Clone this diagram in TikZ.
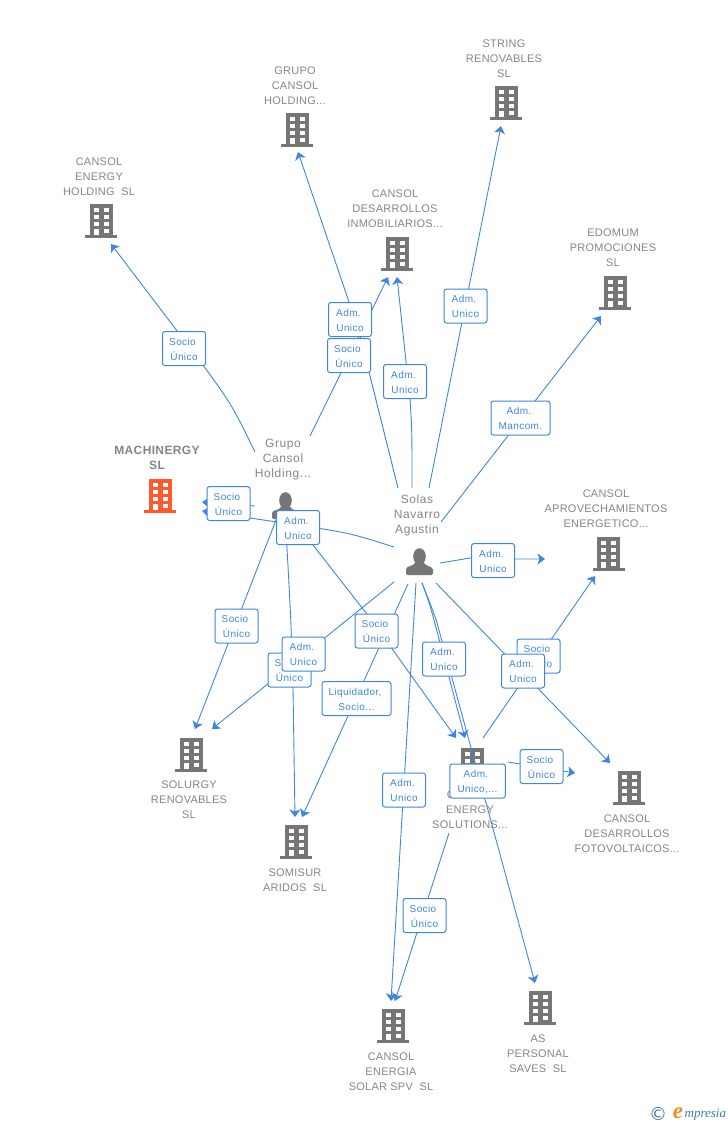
\documentclass[tikz,border=0pt]{standalone}
\usepackage{fontspec}
\setmainfont{Liberation Sans}
\newfontfamily\logofont{Liberation Serif}
\newfontfamily\symfont{DejaVu Sans}
\usetikzlibrary{arrows.meta}
\definecolor{edgeblue}{HTML}{3F86E2}
\definecolor{labgray}{HTML}{858585}
\definecolor{icongray}{HTML}{767676}
\definecolor{orangeicon}{HTML}{FF5A2B}
\definecolor{logoteal}{HTML}{3F7F96}
\definecolor{logoorange}{HTML}{F58A1F}
\newcommand\tsp{\hspace*{3pt}}
\tikzset{
  x=1pt,y=-1pt,
  building/.pic={
    \fill[pic actions] (-11.5,-17) rectangle (11.5,16);
    \fill[pic actions] (-16,13.7) rectangle (16,16.7);
    \foreach \yy in {-13,-6,1,7.5}{
      \fill[white] (-7.5,\yy) rectangle (-2.5,\yy+4);
      \fill[white] (2.5,\yy) rectangle (7.5,\yy+4);
    }
    \fill[white] (-7.5,7.5) rectangle (-2.5,14);
  },
  person/.pic={
    \fill[pic actions] (0.5,-5.5) ellipse (6.3 and 8.3);
    \fill[pic actions] (-13,13) [rounded corners=1.5pt] -- (-13,7.5) [sharp corners] .. controls (-12,4) and (-6,4.5) .. (-4,1) -- (5,1) .. controls (7,4.5) and (13,4) .. (14,7.5) [rounded corners=1.5pt] -- (14,13) -- cycle;
  },
  complabel/.style={yshift=-1pt,text=labgray,font=\fontsize{11}{15}\selectfont\addfontfeature{LetterSpace=2.3},align=center,inner sep=0pt},
  perlabel/.style={yshift=-2pt,text=labgray,font=\fontsize{12}{15}\selectfont\addfontfeature{LetterSpace=5},align=center,inner sep=0pt},
  boldlabel/.style={yshift=-0.5pt,text=labgray,font=\fontsize{12}{15}\selectfont\bfseries\addfontfeature{LetterSpace=3},align=center,inner sep=0pt},
  link/.style={draw=edgeblue,line width=0.9pt},
  arrowlink/.style={link,-{Stealth[length=7.5pt,width=11pt,inset=2pt]}},
  tag/.style={draw=edgeblue,line width=1pt,fill=white,rounded corners=2.5pt,text=edgeblue,
    font=\fontsize{10}{15}\selectfont\addfontfeature{LetterSpace=4},align=center,inner sep=0pt,minimum width=43pt,minimum height=34pt,
    text height=25pt,text depth=2pt},
}
\begin{document}
\begin{tikzpicture}
\useasboundingbox (0,0) rectangle (728,1125);

% icons
\pic[fill=icongray] at (101,221) {building};
\pic[fill=icongray] at (297,130) {building};
\pic[fill=icongray] at (506,103) {building};
\pic[fill=icongray] at (397,254) {building};
\pic[fill=icongray] at (615,293) {building};
\pic[fill=icongray] at (608.5,554) {building};
\pic[fill=icongray] at (629,788) {building};
\pic[fill=icongray] at (472,765) {building};
\pic[fill=icongray] at (191,755) {building};
\pic[fill=icongray] at (296,842) {building};
\pic[fill=icongray] at (393,1026) {building};
\pic[fill=icongray] at (540,1008) {building};
\pic[fill=orangeicon] at (160,496) {building};
\pic[fill=icongray] at (285,506) {person};
\pic[fill=icongray] at (419,562) {person};

% labels
\node[complabel] (lHolding) at (99,176) {CANSOL\\ENERGY\\HOLDING\ \ SL};
\node[complabel] (lGrupo) at (295,84.5) {GRUPO\\CANSOL\\HOLDING...};
\node[complabel] (lString) at (504,58) {STRING\\RENOVABLES\\SL};
\node[complabel] (lInmo) at (395,208) {CANSOL\\DESARROLLOS\\INMOBILIARIOS...};
\node[complabel] (lEdomum) at (613,247) {EDOMUM\\PROMOCIONES\\SL};
\node[complabel] (lAprov) at (606,508) {CANSOL\\APROVECHAMIENTOS\\ENERGETICO...};
\node[complabel] (lFoto) at (627,833) {CANSOL\\DESARROLLOS\\FOTOVOLTAICOS...};
\node[complabel] (lSol) at (470,809) {CANSOL\\ENERGY\\SOLUTIONS...};
\node[complabel] (lSolurgy) at (189,799) {SOLURGY\\RENOVABLES\\SL};
\node[complabel] (lSomisur) at (295,879.5) {SOMISUR\\ARIDOS\ \ SL};
\node[complabel] (lSpv) at (391,1071) {CANSOL\\ENERGIA\\SOLAR SPV\ \ SL};
\node[complabel] (lSaves) at (538,1053) {AS\\PERSONAL\\SAVES\ \ SL};
\node[boldlabel] (lMach) at (157,457.5) {MACHINERGY\\SL};
\node[perlabel] (lGP) at (283,458) {Grupo\\Cansol\\Holding...};
\node[perlabel] (lSolas) at (417,513) {Solas\\Navarro\\Agustin};

% connector ends
\coordinate (aHolding) at (111,244);
\coordinate (aGrupo) at (298,152);
\coordinate (aString) at (501,126);
\coordinate (aInmoA) at (388,277);
\coordinate (aInmoB) at (397,277);
\coordinate (aEdomum) at (601,316);
\coordinate (aAprov) at (595,576);
\coordinate (aFoto) at (610,763);
\coordinate (aSolA) at (456,738);
\coordinate (aSolB) at (465,738);
\coordinate (aSolurgyA) at (195,729);
\coordinate (aSolurgyB) at (212,729);
\coordinate (aSomA) at (295,817);
\coordinate (aSomB) at (302,817);
\coordinate (aSpvA) at (391,1001);
\coordinate (aSpvB) at (395,1001);
\coordinate (aSaves) at (535,983);
\coordinate (aMachA) at (202,502);
\coordinate (aMachB) at (202,511);
\coordinate (aHidden) at (545,559);
\coordinate (aHiddenB) at (575,773);
\coordinate (gTopL) at (255,452);
\coordinate (gTopR) at (310,436);
\coordinate (gLeft) at (255,506);
\coordinate (gBotL) at (276,520);
\coordinate (gBotM) at (286,530);
\coordinate (gBotR) at (313,545);
\coordinate (sTopA) at (398,488);
\coordinate (sTopB) at (412,488);
\coordinate (sTopC) at (429,488);
\coordinate (sTopD) at (441,522);
\coordinate (sRight) at (440,563);
\coordinate (sLeft) at (394,547);
\coordinate (sLowA) at (394,582);
\coordinate (sLowB) at (408,584);
\coordinate (sLowC) at (416,583);
\coordinate (sLowD) at (422,583);
\coordinate (sLowF) at (436,583);
\coordinate (eTop) at (483,738);
\coordinate (eRight) at (508,762);
\coordinate (eLow) at (449,833);

% connectors
\draw[arrowlink] (gTopL) .. controls (232,405) .. (203,365) -- (aHolding);
\draw[arrowlink] (sTopA) -- (360,336) -- (349,302) -- (aGrupo);
\draw[arrowlink] (gTopR) -- (aInmoA);
\draw[arrowlink] (sTopB) .. controls (412,430) .. (410,399) -- (aInmoB);
\draw[arrowlink] (sTopC) -- (aString);
\draw[arrowlink] (sTopD) -- (aEdomum);
\draw[arrowlink] (sRight) -- (470,558) -- (515,559) -- (aHidden);
\draw[arrowlink] (sLeft) .. controls (350,533) .. (297,525) -- (250,518) -- (aMachB);
\draw[arrowlink] (gLeft) -- (aMachA);
\draw[arrowlink] (gBotL) -- (aSolurgyA);
\draw[arrowlink] (sLowA) -- (aSolurgyB);
\draw[arrowlink] (gBotM) .. controls (291,620) .. (293,688) -- (aSomA);
\draw[arrowlink] (sLowB) -- (aSomB);
\draw[arrowlink] (gBotR) -- (370,618) -- (aSolA);
\draw[arrowlink] (sLowD) .. controls (429,602) .. (434,620) -- (aSolB);
\draw[arrowlink] (sLowD) .. controls (430,603) .. (436.5,621) -- (aSaves);
\draw[arrowlink] (sLowC) -- (aSpvA);
\draw[arrowlink] (eLow) -- (aSpvB);
\draw[arrowlink] (sLowF) -- (aFoto);
\draw[arrowlink] (eTop) -- (aAprov);
\draw[arrowlink] (eRight) -- (545,768) -- (aHiddenB);

% connector labels
\node[tag] (t1) at (184,348.5) {Socio\tsp\\Único};
\node[tag] (t3) at (349,355.5) {Socio\tsp\\Único};
\node[tag] (t2) at (350,319.5) {Adm.\tsp\\Unico};
\node[tag] (t4) at (405,381.5) {Adm.\tsp\\Unico};
\node[tag] (t5) at (465.5,306) {Adm.\tsp\\Unico};
\node[tag,minimum width=59pt] (t6) at (520.5,418) {Adm.\tsp\\Mancom.};
\node[tag] (t7) at (493,560.5) {Adm.\tsp\\Unico};
\node[tag] (t8) at (228.5,503.5) {Socio\tsp\\Único};
\node[tag] (t9) at (298,527.5) {Adm.\tsp\\Unico};
\node[tag] (t10) at (236.5,626) {Socio\tsp\\Único};
\node[tag] (t11) at (289.5,670) {Socio\tsp\\Único};
\node[tag] (t12) at (303.5,654) {Adm.\tsp\\Unico};
\node[tag] (t13) at (376.5,631) {Socio\tsp\\Único};
\node[tag,minimum width=69pt] (t14) at (356.5,698.5) {Liquidador,\tsp\\Socio...};
\node[tag] (t15) at (444,659) {Adm.\tsp\\Unico};
\node[tag] (t16) at (538.5,656) {Socio\tsp\\Único};
\node[tag] (t17) at (523,671) {Adm.\tsp\\Unico};
\node[tag] (t18) at (404,790) {Adm.\tsp\\Unico};
\node[tag,minimum width=55.5pt] (t19) at (477.5,781) {Adm.\tsp\\Unico,...};
\node[tag] (t20) at (541.5,766.5) {Socio\tsp\\Único};
\node[tag] (t21) at (424.5,915.5) {Socio\tsp\\Único};

% logo
\node[inner sep=0pt,text=logoteal,font=\symfont\fontsize{18}{18}\selectfont] (logoC) at (658,1114) {©};
\node[inner sep=0pt,text=logoorange,font=\logofont\itshape\bfseries\fontsize{23}{23}\selectfont] (logoE) at (678,1113) {e};
\node[inner sep=0pt,anchor=west,text=logoteal,font=\logofont\itshape\fontsize{13}{13}\selectfont] (logoM) at (684.5,1114.5) {mpresia};
\end{tikzpicture}
\end{document}
